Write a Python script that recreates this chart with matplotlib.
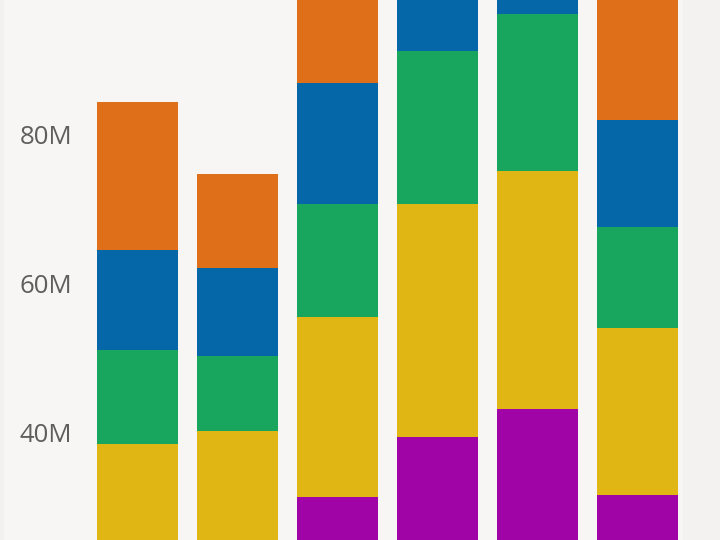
import matplotlib
matplotlib.use("Agg")
import matplotlib.pyplot as plt
from matplotlib.patches import Rectangle

categories = ["C1", "C2", "C3", "C4", "C5", "C6"]
series_names = ["Purple", "Yellow", "Green", "Blue", "Orange"]
purple = [20.0, 22.0, 31.3, 39.3, 43.1, 31.5]
yellow = [18.4, 18.1, 24.2, 31.4, 32.1, 22.5]
green = [12.6, 10.1, 15.2, 20.6, 21.1, 13.6]
blue = [13.5, 11.9, 16.3, 12.0, 9.0, 14.4]
orange = [19.9, 12.7, 16.0, 14.0, 13.0, 20.0]
yticks = [40, 60, 80]
ytick_labels = ["40M", "60M", "80M"]

colors = ["#A104A6", "#E0B615", "#18A55E", "#0567A7", "#DF7019"]
series = [purple, yellow, green, blue, orange]

plt.rcParams['font.family'] = ['Open Sans', 'DejaVu Sans']

fig = plt.figure(figsize=(7.2, 5.4), dpi=100)
fig.patch.set_facecolor("#F7F6F4")
fig.patches.append(Rectangle((0, 0), 4 / 720, 1, transform=fig.transFigure,
                             facecolor="#F2F1EF", edgecolor="none", zorder=0))
fig.patches.append(Rectangle((683 / 720, 0), 37 / 720, 1, transform=fig.transFigure,
                             facecolor="#F3F2F0", edgecolor="none", zorder=0))

ax = fig.add_axes([88 / 720, 0, (683 - 88) / 720, 1])
ax.set_facecolor("none")

x = list(range(len(categories)))
bottom = [0.0] * len(categories)
for name, vals, c in zip(series_names, series, colors):
    ax.bar(x, vals, bottom=bottom, width=0.81, color=c, label=name,
           edgecolor="none", linewidth=0)
    bottom = [b + v for b, v in zip(bottom, vals)]

ax.set_xlim(-0.495, 5.455)
ax.set_ylim(25.455, 98.18)
ax.set_yticks(yticks)
ax.set_yticklabels(ytick_labels)
ax.tick_params(axis='y', length=0, pad=11.5, labelsize=18.5, labelcolor="#5E5E5E")
ax.set_xticks([])
for s in ax.spines.values():
    s.set_visible(False)

fig.savefig("out.png", dpi=100, facecolor=fig.get_facecolor())
